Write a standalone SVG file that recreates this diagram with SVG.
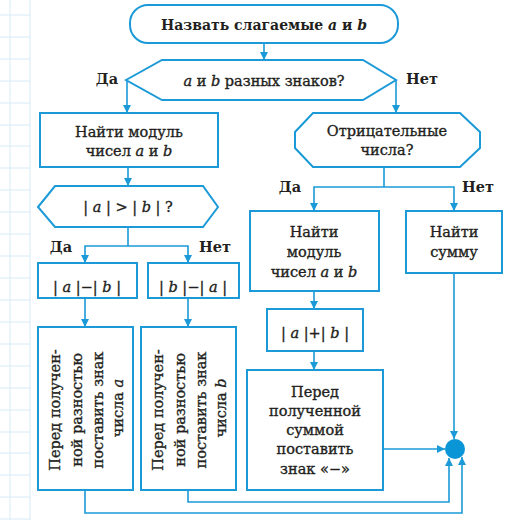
<svg xmlns="http://www.w3.org/2000/svg" width="510" height="520" viewBox="0 0 510 520">
<defs>
<marker id="ah" markerUnits="userSpaceOnUse" markerWidth="10" markerHeight="10" refX="8" refY="4" orient="auto">
<path d="M0,0 L8,4 L0,8 Z" fill="#1b9ad7"/>
</marker>
<style>
.box{fill:#fff;stroke:#1b9ad7;stroke-width:2}
.ln{fill:none;stroke:#1b9ad7;stroke-width:1.6}
.ar{fill:none;stroke:#1b9ad7;stroke-width:1.6;marker-end:url(#ah)}
.t{font-family:"DejaVu Serif","Liberation Serif",serif;font-size:14.5px;fill:#231f20;stroke:#231f20;stroke-width:0.35;text-anchor:middle}
.b{font-weight:bold;stroke-width:0}
.top{font-size:14px}
.i{font-style:italic}
.grid{stroke:#d6eaf7;stroke-width:1;fill:none}
</style>
</defs>
<rect width="510" height="520" fill="#fff"/>
<path class="grid" d="M10,0V520M30,0V520M0,15H30M0,37H30M0,59H30M0,81H30M0,103H30M0,125H30M0,146H30M0,168H30M0,190H30M0,212H30M0,234H30M0,256H30M0,278H30M0,300H30M0,322H30M0,344H30M0,366H30M0,388H30M0,410H30M0,432H30M0,453H30M0,475H30M0,497H30M0,519H30"/>

<g id="connectors">
<path class="ar" d="M264,43V60"/>
<path class="ar" d="M127,80V113"/>
<path class="ar" d="M396,80V113"/>
<path class="ar" d="M128,167V186"/>
<path class="ln" d="M128,227V246"/>
<path class="ar" d="M128,246H85V263"/>
<path class="ar" d="M128,246H188V263"/>
<path class="ar" d="M85,298V327"/>
<path class="ar" d="M188,298V327"/>
<path class="ln" d="M384,167V187"/>
<path class="ar" d="M384,187H314V211"/>
<path class="ar" d="M384,187H454V211"/>
<path class="ar" d="M314,291V309"/>
<path class="ar" d="M314,351V370"/>
<path class="ar" d="M454,273V439"/>
<path class="ar" d="M383,449H445"/>
<path class="ar" d="M85,490V513H462V457"/>
<path class="ar" d="M188,490V502H449V458"/>
</g>

<g id="start">
<rect class="box" x="130" y="5" width="268" height="38" rx="18"/>
<text class="t b top" x="264" y="30">Назвать слагаемые <tspan class="i">a</tspan> и <tspan class="i">b</tspan></text>
</g>

<g id="q1">
<polygon class="box" points="126,80 162,60 363,60 396,80 363,100 162,100"/>
<text class="t" x="264" y="86"><tspan class="i">a</tspan> и <tspan class="i">b</tspan> разных знаков?</text>
</g>
<g id="q1-labels">
<text class="t b" x="107" y="84">Да</text>
<text class="t b" x="422" y="84">Нет</text>
</g>

<g id="mod1">
<rect class="box" x="40" y="113" width="178" height="54"/>
<text class="t" x="129" y="137">Найти модуль</text>
<text class="t" x="129" y="156">чисел <tspan class="i">a</tspan> и <tspan class="i">b</tspan></text>
</g>

<g id="q2">
<polygon class="box" points="38,207 55,186 203,186 218,207 203,227 55,227"/>
<text class="t" x="128" y="212">|<tspan class="i"> a </tspan>|<tspan> &gt; </tspan>|<tspan class="i"> b </tspan>| ?</text>
</g>
<g id="q2-labels">
<text class="t b" x="61" y="252">Да</text>
<text class="t b" x="215" y="252">Нет</text>
</g>

<g id="diff1">
<rect class="box" x="38" y="263" width="99" height="35"/>
<text class="t" x="87" y="292">|<tspan class="i"> a </tspan>|−|<tspan class="i"> b </tspan>|</text>
</g>
<g id="diff2">
<rect class="box" x="148" y="263" width="91" height="35"/>
<text class="t" x="193" y="292">|<tspan class="i"> b </tspan>|−|<tspan class="i"> a </tspan>|</text>
</g>

<g id="sign1">
<rect class="box" x="38" y="327" width="95" height="163"/>
<text class="t" transform="translate(60,410) rotate(-90)">Перед получен-</text>
<text class="t" transform="translate(82,410) rotate(-90)">ной разностью</text>
<text class="t" transform="translate(103,410) rotate(-90)">поставить знак</text>
<text class="t" transform="translate(123,408) rotate(-90)">числа <tspan class="i">a</tspan></text>
</g>
<g id="sign2">
<rect class="box" x="141" y="327" width="95" height="163"/>
<text class="t" transform="translate(163,410) rotate(-90)">Перед получен-</text>
<text class="t" transform="translate(185,410) rotate(-90)">ной разностью</text>
<text class="t" transform="translate(206,410) rotate(-90)">поставить знак</text>
<text class="t" transform="translate(226,408) rotate(-90)">числа <tspan class="i">b</tspan></text>
</g>

<g id="q3">
<polygon class="box" points="313,113 460,113 480,132 480,148 460,167 313,167 295,148 295,132"/>
<text class="t" x="387" y="136">Отрицательные</text>
<text class="t" x="387" y="155">числа?</text>
</g>
<g id="q3-labels">
<text class="t b" x="290" y="192">Да</text>
<text class="t b" x="478" y="192">Нет</text>
</g>

<g id="mod2">
<rect class="box" x="250" y="211" width="129" height="80"/>
<text class="t" x="314" y="237">Найти</text>
<text class="t" x="314" y="257">модуль</text>
<text class="t" x="314" y="277">чисел <tspan class="i">a</tspan> и <tspan class="i">b</tspan></text>
</g>

<g id="sum">
<rect class="box" x="406" y="211" width="96" height="62"/>
<text class="t" x="454" y="237">Найти</text>
<text class="t" x="454" y="257">сумму</text>
</g>

<g id="abssum">
<rect class="box" x="267" y="309" width="96" height="42"/>
<text class="t" x="315" y="338">|<tspan class="i"> a </tspan>|+|<tspan class="i"> b </tspan>|</text>
</g>

<g id="neg">
<rect class="box" x="247" y="370" width="136" height="120"/>
<text class="t" x="315" y="397">Перед</text>
<text class="t" x="315" y="416">полученной</text>
<text class="t" x="315" y="435">суммой</text>
<text class="t" x="315" y="454">поставить</text>
<text class="t" x="315" y="474">знак «−»</text>
</g>

<g id="end">
<circle cx="455" cy="449" r="10" fill="#0a96d6"/>
</g>
</svg>
